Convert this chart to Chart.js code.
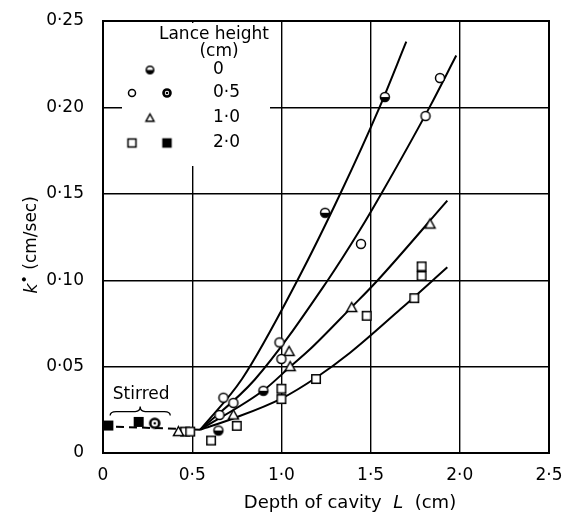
<!DOCTYPE html>
<html>
<head>
<meta charset="utf-8">
<script src="https://cdn.jsdelivr.net/npm/chart.js@4.4.0/dist/chart.umd.min.js"></script>
<style>
  html, body { margin: 0; padding: 0; background: #fff; }
  canvas { display: block; }
</style>
</head>
<body>
<canvas id="cavityChart" width="567" height="517"></canvas>
<script>
const xTickValues = [0, 0.5, 1.0, 1.5, 2.0, 2.5];
const xTickLabels = ['0', '0·5', '1·0', '1·5', '2·0', '2·5'];
const yTickValues = [0, 0.05, 0.10, 0.15, 0.20, 0.25];
const yTickLabels = ['0', '0·05', '0·10', '0·15', '0·20', '0·25'];

const lanceHeights = ['0', '0·5', '1·0', '2·0'];

// measured points (depth of cavity L, k*)
const lance0X = [0.647, 0.899, 1.245, 1.58];
const lance0Y = [0.013, 0.036, 0.139, 0.206];
const lance05X = [0.653, 0.675, 0.731, 0.989, 1.0, 1.446, 1.808, 1.889];
const lance05Y = [0.022, 0.032, 0.029, 0.064, 0.0544, 0.121, 0.195, 0.217];
const lance05StirredX = [0.29];
const lance05StirredY = [0.0172];
const lance1X = [0.423, 0.731, 1.043, 1.049, 1.394, 1.833];
const lance1Y = [0.0124, 0.022, 0.0588, 0.050, 0.0842, 0.1325];
const lance2X = [0.46, 0.489, 0.606, 0.75, 1.0, 1.0, 1.194, 1.478, 1.745, 1.786, 1.786];
const lance2Y = [0.0124, 0.0124, 0.0072, 0.0157, 0.0372, 0.0312, 0.0428, 0.0794, 0.0896, 0.1025, 0.108];
const lance2StirredX = [0.03, 0.2];
const lance2StirredY = [0.0159, 0.018];

// hand-drawn fitted curves
const curve0X = [0.545, 0.78, 1.09, 1.33, 1.55, 1.70];
const curve0Y = [0.0135, 0.043, 0.10, 0.15, 0.20, 0.238];
const curve05X = [0.545, 0.85, 1.26, 1.44, 1.56, 1.83, 1.98];
const curve05Y = [0.0135, 0.0424, 0.10, 0.129, 0.15, 0.20, 0.23];
const curve1X = [0.545, 0.9, 1.05, 1.16, 1.39, 1.54, 1.93];
const curve1Y = [0.0135, 0.0363, 0.05, 0.06, 0.084, 0.10, 0.146];
const curve2X = [0.545, 0.73, 1.0, 1.2, 1.385, 1.665, 1.93];
const curve2Y = [0.0135, 0.020, 0.0315, 0.044, 0.058, 0.083, 0.1075];
const stirredX = [0, 0.545];
const stirredY = [0.0155, 0.0135];

const FONT = '"DejaVu Sans", sans-serif';

function pts(xs, ys) {
  return xs.map((x, i) => ({ x: x, y: ys[i] }));
}

function marker(kind, d) {
  const c = document.createElement('canvas');
  const n = Math.ceil(d + 5);
  c.width = n; c.height = n;
  const g = c.getContext('2d');
  const m = n / 2, r = d / 2;
  g.lineWidth = 1.5;
  g.strokeStyle = '#000';
  g.fillStyle = '#fff';
  g.beginPath();
  if (kind === 'tri') {
    g.moveTo(m, m - r);
    g.lineTo(m + r, m + r * 0.8);
    g.lineTo(m - r, m + r * 0.8);
    g.closePath();
  } else if (kind === 'sq' || kind === 'fsq') {
    g.rect(m - r, m - r, d, d);
  } else {
    g.arc(m, m, r, 0, Math.PI * 2);
  }
  g.fill();
  if (kind === 'fsq') { g.fillStyle = '#000'; g.fill(); }
  if (kind === 'dot') g.lineWidth = 2.6;
  g.stroke();
  if (kind === 'half') {
    g.beginPath();
    g.arc(m, m, r, 0, Math.PI);
    g.closePath();
    g.fillStyle = '#000';
    g.fill();
  }
  if (kind === 'dot') {
    g.beginPath();
    g.arc(m, m, 1.3, 0, Math.PI * 2);
    g.fillStyle = '#000';
    g.fill();
  }
  return c;
}

const mk = {
  half: marker('half', 9), open: marker('open', 9), dot: marker('dot', 9),
  tri: marker('tri', 10), sq: marker('sq', 8.5), fsq: marker('fsq', 8.5)
};
const lg = {
  half: marker('half', 7.5), open: marker('open', 7), dot: marker('dot', 7),
  tri: marker('tri', 8), sq: marker('sq', 8), fsq: marker('fsq', 8)
};

function pointSet(xs, ys, style) {
  return { data: pts(xs, ys), pointStyle: style, showLine: false };
}
function curveSet(xs, ys, dash) {
  return {
    data: pts(xs, ys), showLine: true, pointRadius: 0, borderColor: '#000',
    borderWidth: 2, fill: false, borderDash: dash || [],
    cubicInterpolationMode: dash ? 'default' : 'monotone'
  };
}

const paperLayout = {
  id: 'paperLayout',
  beforeDatasetsDraw(chart) {
    const { ctx, chartArea: a } = chart;
    ctx.save();
    // legend panel hides the grid behind it
    ctx.fillStyle = '#fff';
    ctx.fillRect(a.left + 19, a.top + 2, 148, 143);
    ctx.strokeStyle = '#000';
    ctx.lineWidth = 2;
    ctx.strokeRect(a.left, a.top, a.right - a.left, a.bottom - a.top);
    ctx.restore();
  },
  afterDraw(chart) {
    const { ctx, chartArea: a, scales } = chart;
    const sx = scales.x, sy = scales.y;
    ctx.save();
    ctx.fillStyle = '#000';
    ctx.strokeStyle = '#000';
    ctx.textBaseline = 'middle';

    // legend
    ctx.font = '17px ' + FONT;
    ctx.textAlign = 'center';
    ctx.fillText('Lance height', a.left + 111, a.top + 14);
    ctx.fillText('(cm)', a.left + 116, a.top + 31);
    const rows = [49, 72, 97, 122].map(v => a.top + v);
    const left = a.left + 29, mid = a.left + 47, right = a.left + 64;
    const put = (img, x, y) => ctx.drawImage(img, x - img.width / 2, y - img.height / 2);
    put(lg.half, mid, rows[0]);
    put(lg.open, left, rows[1]);
    put(lg.dot, right, rows[1]);
    put(lg.tri, mid, rows[2]);
    put(lg.sq, left, rows[3]);
    put(lg.fsq, right, rows[3]);
    ctx.textAlign = 'left';
    lanceHeights.forEach((t, i) => ctx.fillText(t, a.left + 110, rows[i]));

    // "Stirred" brace
    const bx0 = sx.getPixelForValue(0.04), bx1 = sx.getPixelForValue(0.377);
    const bm = (bx0 + bx1) / 2, by = sy.getPixelForValue(0.024);
    ctx.lineWidth = 1.3;
    ctx.beginPath();
    ctx.moveTo(bx0, by + 4);
    ctx.quadraticCurveTo(bx0, by, bx0 + 6, by);
    ctx.lineTo(bm - 5, by);
    ctx.quadraticCurveTo(bm, by, bm, by - 5);
    ctx.quadraticCurveTo(bm, by, bm + 5, by);
    ctx.lineTo(bx1 - 6, by);
    ctx.quadraticCurveTo(bx1, by, bx1, by + 4);
    ctx.stroke();
    ctx.textAlign = 'center';
    ctx.font = '17px ' + FONT;
    ctx.fillText('Stirred', bm + 1, sy.getPixelForValue(0.034));

    // x axis title
    const xa = 'Depth of cavity  ', xb = 'L', xc = '  (cm)';
    ctx.font = '18px ' + FONT;
    const wa = ctx.measureText(xa).width, wc = ctx.measureText(xc).width;
    ctx.font = 'italic 18px ' + FONT;
    const wb = ctx.measureText(xb).width;
    let x0 = 350 - (wa + wb + wc) / 2;
    ctx.textAlign = 'left';
    ctx.font = '18px ' + FONT;
    ctx.fillText(xa, x0, 503);
    ctx.font = 'italic 18px ' + FONT;
    ctx.fillText(xb, x0 + wa, 503);
    ctx.font = '18px ' + FONT;
    ctx.fillText(xc, x0 + wa + wb, 503);

    // y axis title
    ctx.translate(32, 245);
    ctx.rotate(-Math.PI / 2);
    ctx.font = 'italic 18px ' + FONT;
    const w1 = ctx.measureText('k').width;
    ctx.font = '14px ' + FONT;
    const w2 = ctx.measureText('•').width;
    ctx.font = '17px ' + FONT;
    const w3 = ctx.measureText(' (cm/sec)').width;
    let y0 = -(w1 + w2 + w3) / 2;
    ctx.font = 'italic 18px ' + FONT;
    ctx.fillText('k', y0, 0);
    ctx.font = '14px ' + FONT;
    ctx.fillText('•', y0 + w1, -7);
    ctx.font = '17px ' + FONT;
    ctx.fillText(' (cm/sec)', y0 + w1 + w2, 0);
    ctx.restore();
  }
};

document.addEventListener('DOMContentLoaded', function() {
  const ctx = document.getElementById('cavityChart').getContext('2d');

  new Chart(ctx, {
    type: 'scatter',
    data: {
      datasets: [
        pointSet(lance0X, lance0Y, mk.half),
        pointSet(lance05X, lance05Y, mk.open),
        pointSet(lance05StirredX, lance05StirredY, mk.dot),
        pointSet(lance1X, lance1Y, mk.tri),
        pointSet(lance2X, lance2Y, mk.sq),
        pointSet(lance2StirredX, lance2StirredY, mk.fsq),
        curveSet(curve0X, curve0Y),
        curveSet(curve05X, curve05Y),
        curveSet(curve1X, curve1Y),
        curveSet(curve2X, curve2Y),
        curveSet(stirredX, stirredY, [8, 5])
      ]
    },
    options: {
      responsive: false,
      animation: false,
      layout: { padding: { top: 21, right: 18, left: 0, bottom: 0 } },
      plugins: {
        legend: { display: false },
        tooltip: { enabled: false }
      },
      scales: {
        x: {
          type: 'linear',
          min: 0,
          max: 2.5,
          afterFit: s => { s.height = 64; s.paddingLeft = 0; s.paddingRight = 0; },
          afterBuildTicks: s => { s.ticks = xTickValues.map(v => ({ value: v })); },
          ticks: {
            callback: (v, i) => xTickLabels[i],
            padding: 12,
            maxRotation: 0,
            color: '#000',
            font: { family: FONT, size: 17 }
          },
          grid: { color: '#000', lineWidth: 1.4, drawTicks: false },
          border: { color: '#000', width: 2 }
        },
        y: {
          type: 'linear',
          min: 0,
          max: 0.25,
          afterFit: s => { s.width = 103; s.paddingTop = 0; s.paddingBottom = 0; },
          afterBuildTicks: s => { s.ticks = yTickValues.map(v => ({ value: v })); },
          ticks: {
            callback: (v, i) => yTickLabels[i],
            padding: 19,
            color: '#000',
            font: { family: FONT, size: 17 }
          },
          grid: { color: '#000', lineWidth: 1.4, drawTicks: false },
          border: { color: '#000', width: 2 }
        }
      }
    },
    plugins: [paperLayout]
  });
});
</script>
</body>
</html>
